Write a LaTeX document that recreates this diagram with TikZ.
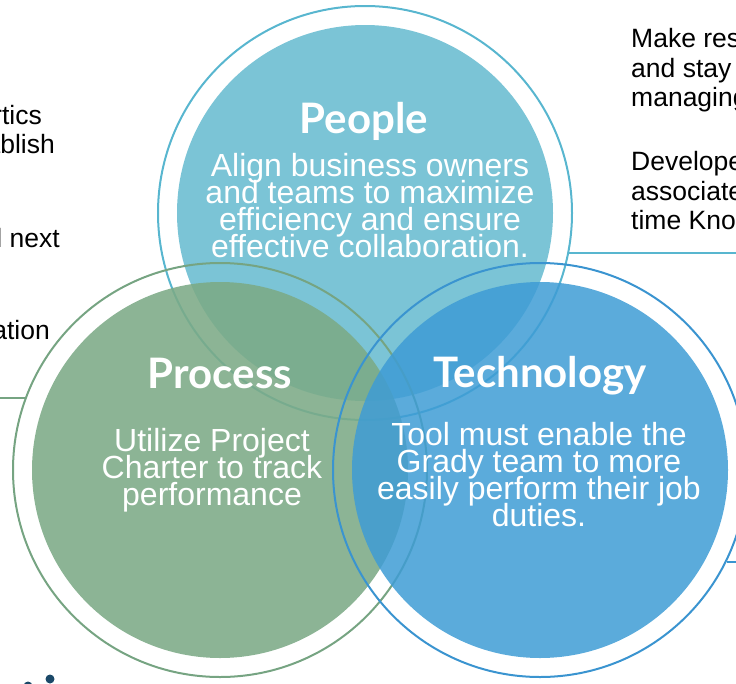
\documentclass[tikz,border=0pt]{standalone}
\usepackage{fontspec}
\setmainfont{Liberation Sans}
\newfontfamily\titlefont{Lato}
\definecolor{peoplefill}{RGB}{123,196,214}
\definecolor{peopleline}{RGB}{88,182,207}
\definecolor{processfill}{RGB}{124,170,134}
\definecolor{processline}{RGB}{118,164,130}
\definecolor{techfill}{RGB}{62,156,213}
\definecolor{techline}{RGB}{58,148,208}
\definecolor{navy}{RGB}{26,72,104}
\tikzset{
  fillcircle/.style={circle, inner sep=0pt, minimum size=376pt},
  ringcircle/.style={circle, inner sep=0pt, minimum size=414pt, draw, line width=2pt},
  title/.style={font={\titlefont\bfseries\fontsize{42}{42}\selectfont}, text=white, anchor=base, inner sep=0pt},
  body/.style={font={\fontsize{32}{26.7}\selectfont\lineskiplimit=-100pt}, text=white, align=center, anchor=north, inner sep=0pt},
  side/.style={font={\fontsize{26.5}{30}\selectfont}, text=black, inner sep=0pt},
  connector/.style={line width=2pt}
}
\begin{document}
\begin{tikzpicture}[x=1pt,y=-1pt]
\useasboundingbox (0,0) rectangle (736,683);
\clip (0,0) rectangle (736,683);
% circles
\node[fillcircle, fill=peoplefill] (pfill) at (365,213) {};
\node[ringcircle, draw=peopleline] (pring) at (365,213) {};
\node[fillcircle, fill=processfill, fill opacity=.88] (rfill) at (220,470) {};
\node[ringcircle, draw=processline] (rring) at (220,470) {};
\node[fillcircle, fill=techfill, fill opacity=.85] (tfill) at (540,470) {};
\node[ringcircle, draw=techline] (tring) at (540,470) {};
% connectors
\coordinate (pend) at (736,253);
\coordinate (rend) at (0,398);
\coordinate (tend) at (736,562);
\draw[connector, peopleline] (pend -| pring.-11.1) -- (pend);
\draw[connector, processline] (rend) -- (rend -| rring.159.6);
\draw[connector, techline] (tend -| tring.-26.4) -- (tend);
% titles
\node[title] (ptitle) at (364,133) {People};
\node[title] (rtitle) at (220,388) {Process};
\node[title] (ttitle) at (540,387) {Technology};
% body
\node[body] (pbody) at (370,153.6) {Align business owners\\and teams to maximize\\efficiency and ensure\\effective collaboration.};
\node[body] (rbody) at (212,428.6) {Utilize Project\\Charter to track\\performance};
\node[body] (tbody) at (539,422.6) {Tool must enable the\\Grady team to more\\easily perform their job\\duties.};
% side texts
\node[side, anchor=base east] (l1) at (42,124) {rtics};
\node[side, anchor=base east] (l2) at (55,153) {ablish};
\node[side, anchor=base east] (l3) at (60,247) {l next};
\node[side, anchor=base east] (l4) at (50,339) {ation};
\node[side, anchor=base west] (r1) at (631,47) {Make res};
\node[side, anchor=base west] (r2) at (631,77) {and stay};
\node[side, anchor=base west] (r3) at (631,106) {managing};
\node[side, anchor=base west] (r4) at (631,170) {Develope};
\node[side, anchor=base west] (r5) at (631,200) {associate};
\node[side, anchor=base west] (r6) at (631,229) {time Kno};
% fragment bottom left
\fill[navy] (50,679) circle (4.5);
\fill[navy] (28,686) circle (4.5);
\end{tikzpicture}
\end{document}
